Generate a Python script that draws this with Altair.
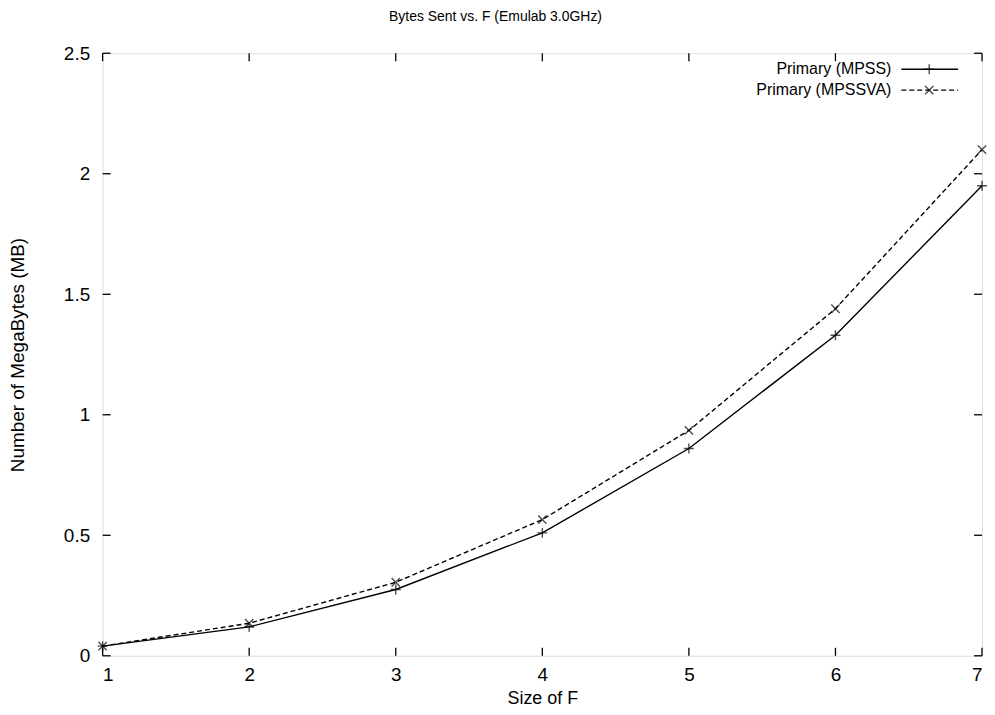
import altair as alt
import pandas as pd

f_values = [1, 2, 3, 4, 5, 6, 7]
mpss = [0.04, 0.12, 0.275, 0.51, 0.86, 1.33, 1.95]
mpssva = [0.04, 0.135, 0.305, 0.565, 0.935, 1.44, 2.10]
series_names = ["Primary (MPSS)", "Primary (MPSSVA)"]
x_ticks = [1, 2, 3, 4, 5, 6, 7]
y_ticks = [0, 0.5, 1, 1.5, 2, 2.5]

W, H = 883, 605
FONT = "Liberation Sans"

df1 = pd.DataFrame({"F": f_values, "MB": mpss})
df2 = pd.DataFrame({"F": f_values, "MB": mpssva})

xs = alt.Scale(domain=[1, 7], nice=False, zero=False)
ys = alt.Scale(domain=[0, 2.5], nice=False)

xaxis = alt.Axis(values=x_ticks, format="d", title="Size of F", grid=False, ticks=False,
                 domain=False, labelPadding=10, titlePadding=5, labelFontSize=19,
                 titleFontSize=18, labelFont=FONT, titleFont=FONT, titleFontWeight="normal",
                 labelColor="black", titleColor="black")
yaxis = alt.Axis(values=y_ticks, title="Number of MegaBytes (MB)", grid=False, ticks=False,
                 domain=False, labelPadding=13, titlePadding=36, labelFontSize=19,
                 titleFontSize=19, labelFont=FONT, titleFont=FONT, titleFontWeight="normal",
                 labelColor="black", titleColor="black",
                 labelExpr="datum.value == 0 ? '0' : format(datum.value, '.1~f')")

plus_shape = "M-1,0L1,0M0,-1L0,1"
x_shape = "M-1,-1L1,1M-1,1L1,-1"

line1 = alt.Chart(df1).mark_line(color="black", strokeWidth=1.4).encode(
    x=alt.X("F:Q", scale=xs, axis=xaxis), y=alt.Y("MB:Q", scale=ys, axis=yaxis))
pts1 = alt.Chart(df1).mark_point(shape=plus_shape, filled=False, color="black", size=100, strokeWidth=1.4).encode(
    x=alt.X("F:Q", scale=xs), y=alt.Y("MB:Q", scale=ys))
line2 = alt.Chart(df2).mark_line(color="black", strokeWidth=1.4, strokeDash=[5, 3]).encode(
    x=alt.X("F:Q", scale=xs), y=alt.Y("MB:Q", scale=ys))
pts2 = alt.Chart(df2).mark_point(shape=x_shape, filled=False, color="black", size=70, strokeWidth=1.4).encode(
    x=alt.X("F:Q", scale=xs), y=alt.Y("MB:Q", scale=ys))

xt = pd.DataFrame({"F": x_ticks})
yt = pd.DataFrame({"MB": y_ticks})
tick_bottom = alt.Chart(xt).mark_rule(color="black", strokeWidth=1.3).encode(
    x=alt.X("F:Q", scale=xs), y=alt.value(H), y2=alt.value(H - 8))
tick_top = alt.Chart(xt).mark_rule(color="black", strokeWidth=1.3).encode(
    x=alt.X("F:Q", scale=xs), y=alt.value(0), y2=alt.value(8))
tick_left = alt.Chart(yt).mark_rule(color="black", strokeWidth=1.3).encode(
    y=alt.Y("MB:Q", scale=ys), x=alt.value(0), x2=alt.value(8))
tick_right = alt.Chart(yt).mark_rule(color="black", strokeWidth=1.3).encode(
    y=alt.Y("MB:Q", scale=ys), x=alt.value(W), x2=alt.value(W - 8))

leg = pd.DataFrame({"name": series_names})
leg1 = leg.iloc[[0]]
leg2 = leg.iloc[[1]]
LX, SX1, SX2, SM = 792, 802, 859, 830
R1, R2 = 16, 37

def legend_row(d, row_y, dash, shape, size):
    t = alt.Chart(d).mark_text(align="right", baseline="middle", fontSize=16, font=FONT, color="black").encode(
        text="name:N", x=alt.value(LX), y=alt.value(row_y))
    kw = dict(color="black", strokeWidth=1.4)
    if dash:
        kw["strokeDash"] = dash
    r = alt.Chart(d).mark_rule(**kw).encode(x=alt.value(SX1), x2=alt.value(SX2), y=alt.value(row_y))
    p = alt.Chart(d).mark_point(shape=shape, filled=False, color="black", size=size, strokeWidth=1.4).encode(
        x=alt.value(SM), y=alt.value(row_y))
    return [t, r, p]

layers = [line1, line2, pts1, pts2, tick_bottom, tick_top, tick_left, tick_right]
layers += legend_row(leg1, R1, None, plus_shape, 100)
layers += legend_row(leg2, R2, [5, 3], x_shape, 70)

chart = alt.layer(*layers).properties(
    width=W, height=H,
    title=alt.TitleParams("Bytes Sent vs. F (Emulab 3.0GHz)", fontSize=14, font=FONT,
                          fontWeight="normal", color="black", offset=20, dx=-47),
    autosize=alt.AutoSizeParams(type="none"),
    padding={"left": 95, "top": 44, "right": 5, "bottom": 50},
).configure_view(stroke="black", strokeWidth=1.5).configure(background="white")

chart.save("out.html", embed_options={"renderer": "svg", "actions": False})
